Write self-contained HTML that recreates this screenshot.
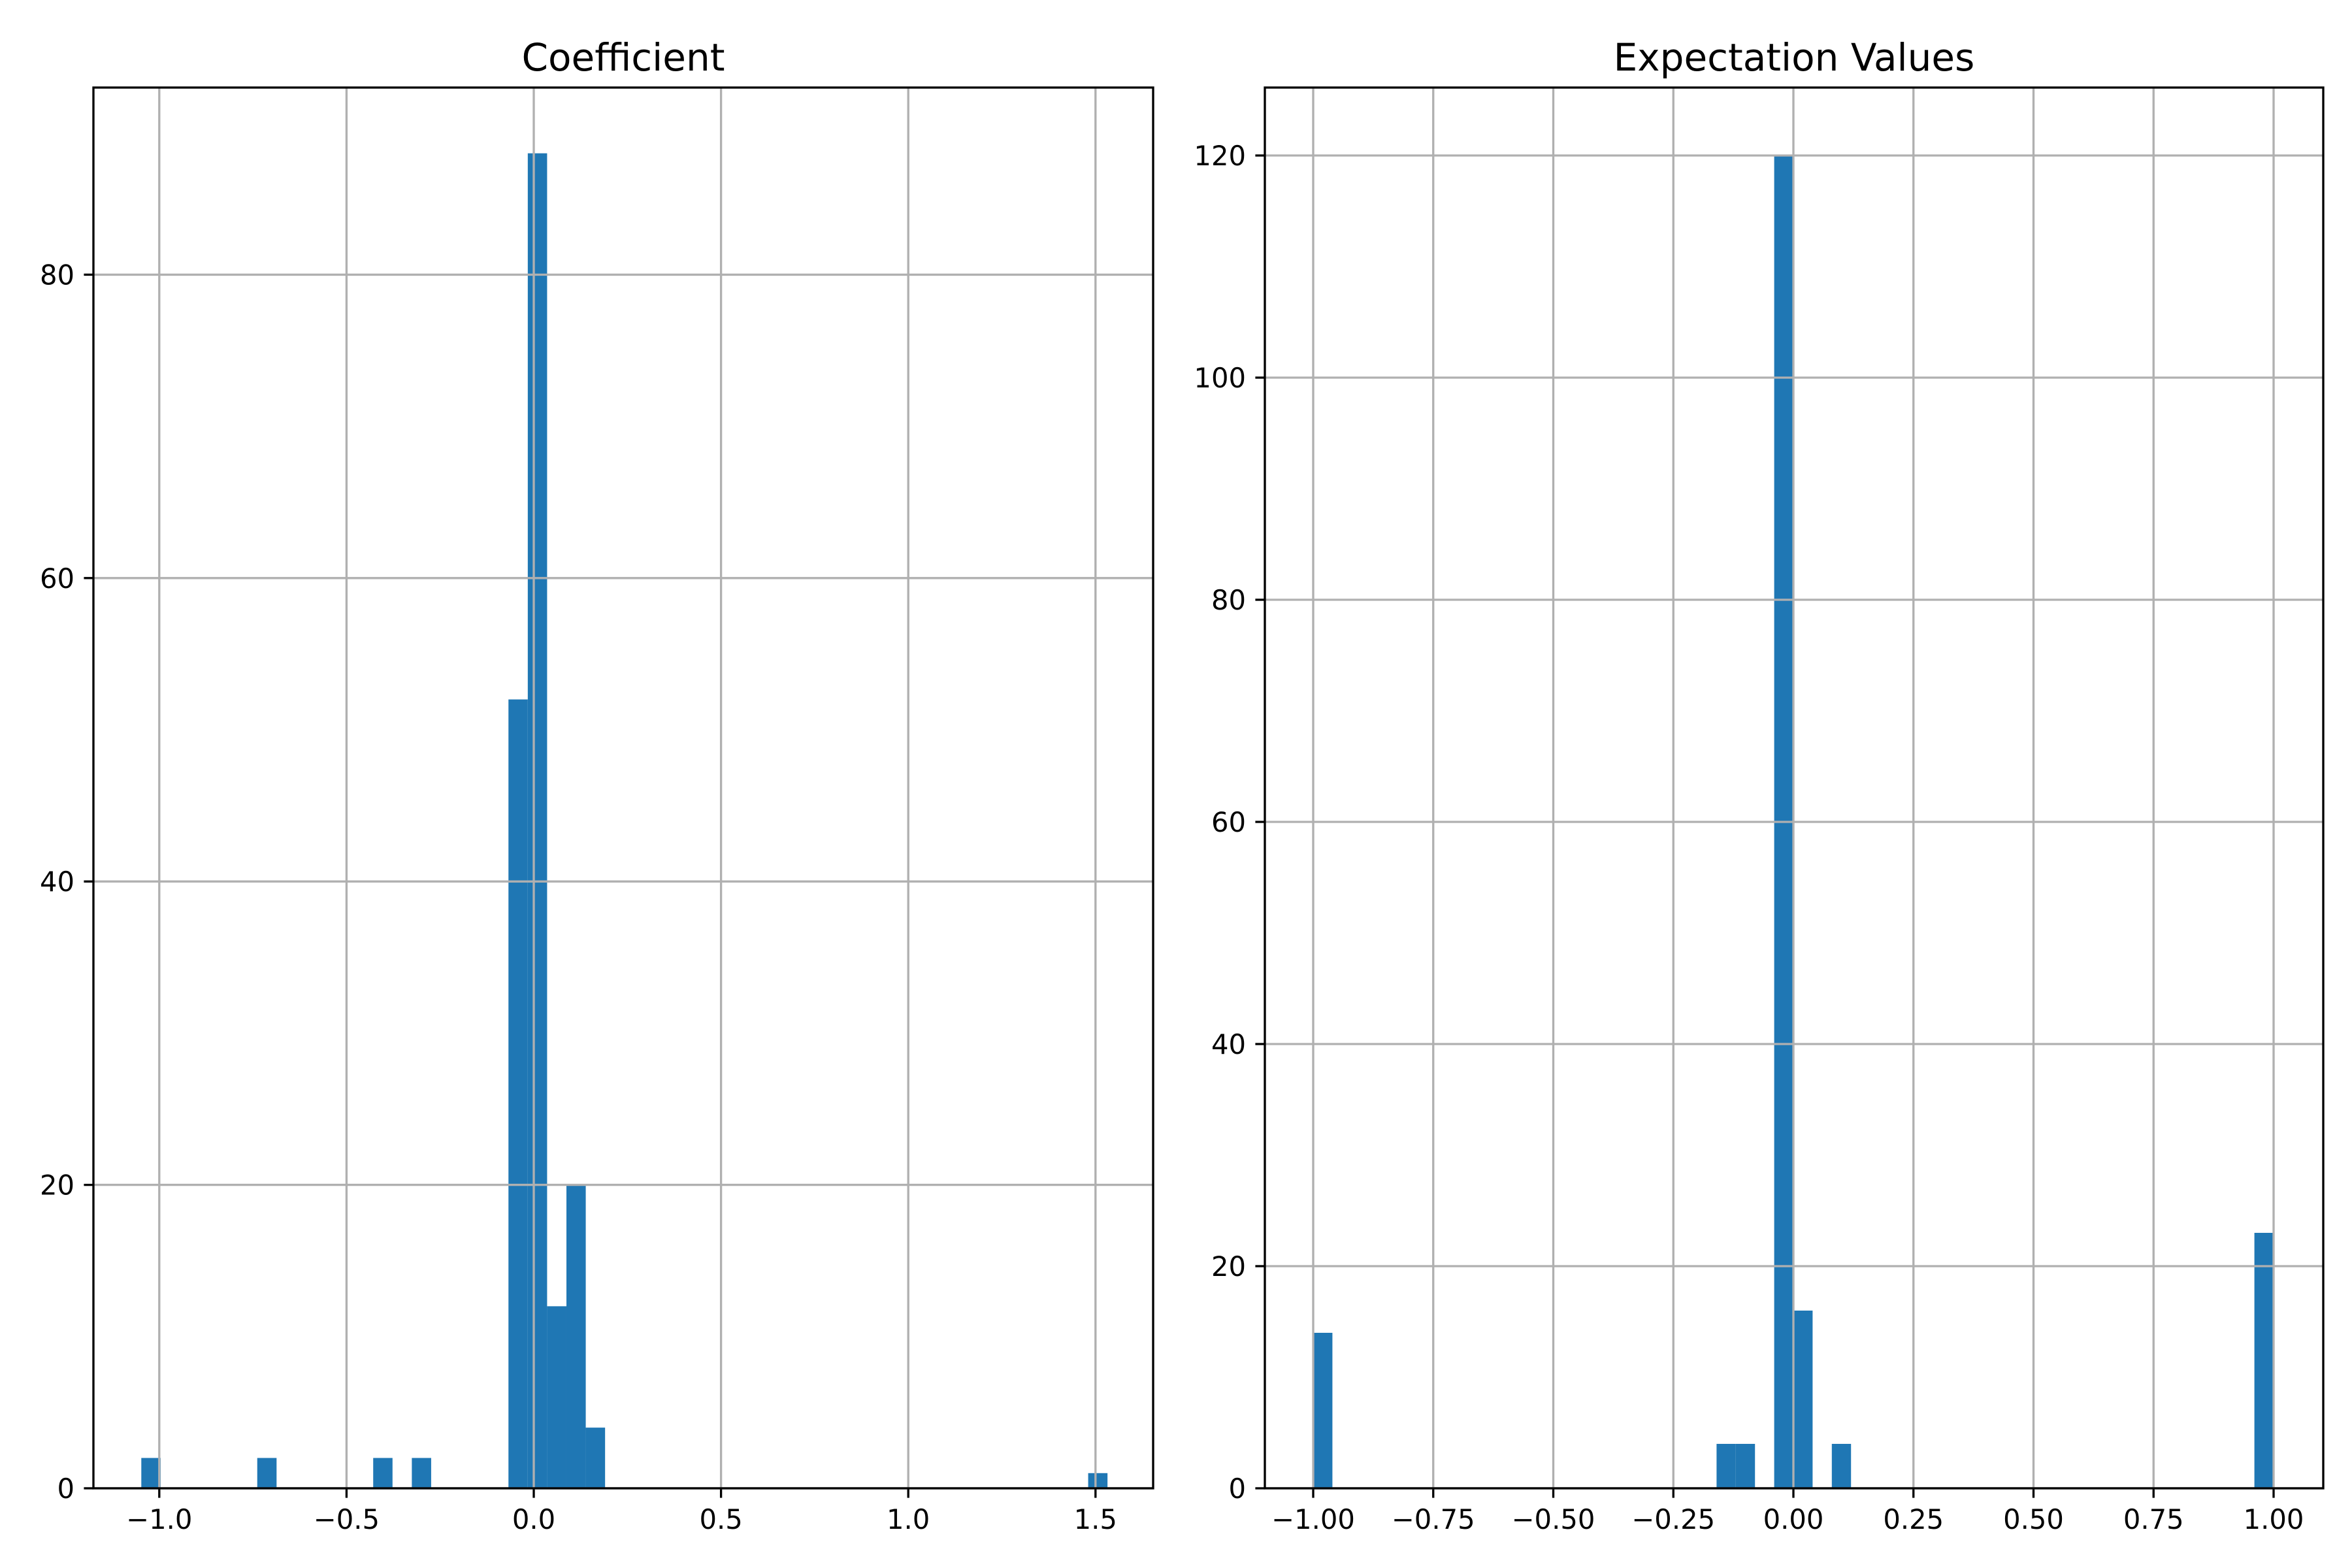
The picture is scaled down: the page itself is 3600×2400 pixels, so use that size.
<!DOCTYPE html>
<html><head><meta charset="utf-8"><style>
html,body{margin:0;padding:0;background:#fff;}
svg{display:block;font-family:"DejaVu Sans","Liberation Sans",sans-serif;}
</style></head><body>
<svg id="chart" width="3600" height="2400" viewBox="0 0 3600 2400" xmlns="http://www.w3.org/2000/svg">
<rect width="3600" height="2400" fill="#fff"/>
</svg>
<script>
// Coefficient histogram data
const coefBinStart = -1.048;
const coefBinWidth = 0.0516;
const coefCounts = [2,0,0,0,0,0,2,0,0,0,0,0,2,0,2,0,0,0,0,52,88,12,20,4,0,0,0,0,0,0,0,0,0,0,0,0,0,0,0,0,0,0,0,0,0,0,0,0,0,1];
const coefXTicks = [-1.0,-0.5,0.0,0.5,1.0,1.5];
const coefXTickLabels = ["\u22121.0","\u22120.5","0.0","0.5","1.0","1.5"];
const coefYTicks = [0,20,40,60,80];
// Expectation values histogram data
const expBinStart = -1.0;
const expBinWidth = 0.04;
const expCounts = [14,0,0,0,0,0,0,0,0,0,0,0,0,0,0,0,0,0,0,0,0,4,4,0,120,16,0,4,0,0,0,0,0,0,0,0,0,0,0,0,0,0,0,0,0,0,0,0,0,23];
const expXTicks = [-1.0,-0.75,-0.5,-0.25,0.0,0.25,0.5,0.75,1.0];
const expXTickLabels = ["\u22121.00","\u22120.75","\u22120.50","\u22120.25","0.00","0.25","0.50","0.75","1.00"];
const expYTicks = [0,20,40,60,80,100,120];

const NS = "http://www.w3.org/2000/svg";
const svg = document.getElementById('chart');
function mk(tag, attrs, parent){
  const e = document.createElementNS(NS, tag);
  for (const k in attrs) e.setAttribute(k, attrs[k]);
  (parent||svg).appendChild(e);
  return e;
}

function drawPanel(cfg){
  const g = mk('g', {});
  
  
  const L=cfg.left, R=cfg.right, T=134, B=2278;
  const xs = v => cfg.x0px + (v - 0) * cfg.xScale;
  const ys = v => B - v * cfg.yScale;
  cfg.counts.forEach((c,i)=>{
    if (c <= 0) return;
    const x0 = cfg.binStart + i*cfg.binWidth;
    const bar = mk('rect', {x: xs(x0), y: ys(c), width: xs(x0+cfg.binWidth)-xs(x0), height: B-ys(c), fill:'#1f77b4'}, g);
    
    
  });
  cfg.xTicks.forEach((t,i)=>{
    const x = xs(t);
    const gl = mk('line', {x1:x, x2:x, y1:T, y2:B, stroke:'#b0b0b0', 'stroke-width':3.33}, g);
    
    
    mk('line', {x1:x, x2:x, y1:B, y2:B+14.6, stroke:'#000', 'stroke-width':3.33}, g);
    const tx = mk('text', {x:x, y:B+62, 'font-size':41.7, 'text-anchor':'middle', fill:'#000'}, g);
    tx.textContent = cfg.xLabels[i];
    
    
  });
  cfg.yTicks.forEach(t=>{
    const y = ys(t);
    const gl = mk('line', {x1:L, x2:R, y1:y, y2:y, stroke:'#b0b0b0', 'stroke-width':3.33}, g);
    
    
    mk('line', {x1:L-14.6, x2:L, y1:y, y2:y, stroke:'#000', 'stroke-width':3.33}, g);
    const tx = mk('text', {x:L-29, y:y+15, 'font-size':41.7, 'text-anchor':'end', fill:'#000'}, g);
    tx.textContent = String(t);
    
    
  });
  const frame = mk('rect', {x:L, y:T, width:R-L, height:B-T, fill:'none', stroke:'#000', 'stroke-width':3.33}, g);
  
  
  const title = mk('text', {x:(L+R)/2, y:108, 'font-size':58, 'text-anchor':'middle', fill:'#000'}, g);
  title.textContent = cfg.title;
  
  
}

drawPanel({name:'coefficient-panel', title:'Coefficient', left:143, right:1765,
  x0px:817, xScale:573.2, yScale:23.22,
  binStart:coefBinStart, binWidth:coefBinWidth, counts:coefCounts,
  xTicks:coefXTicks, xLabels:coefXTickLabels, yTicks:coefYTicks});
drawPanel({name:'expectation-values-panel', title:'Expectation Values', left:1936, right:3556,
  x0px:2745, xScale:735, yScale:17.0,
  binStart:expBinStart, binWidth:expBinWidth, counts:expCounts,
  xTicks:expXTicks, xLabels:expXTickLabels, yTicks:expYTicks});
</script>
</body></html>
